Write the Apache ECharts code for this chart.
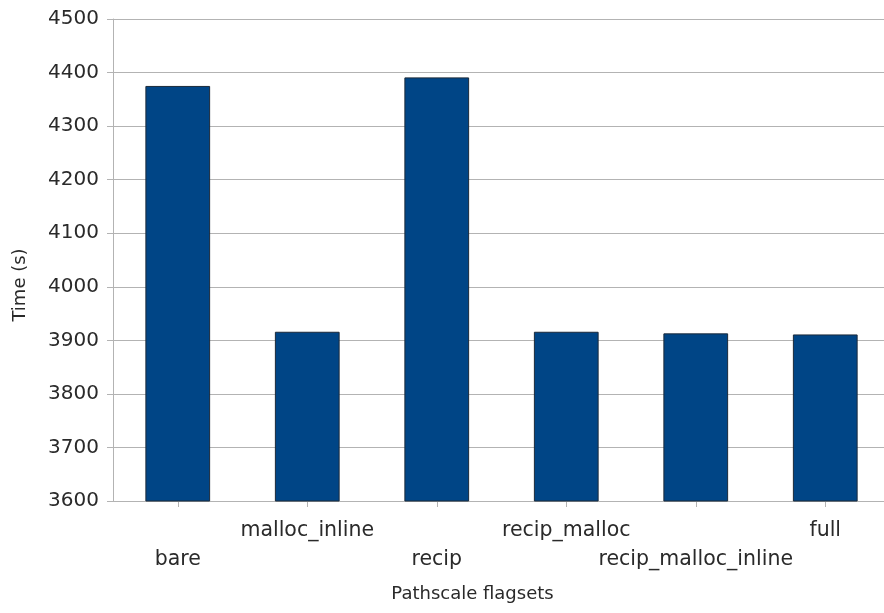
<!DOCTYPE html>
<html>
<head>
<meta charset="utf-8">
<style>
  html, body { margin: 0; padding: 0; background: #ffffff; }
  #chart { width: 884px; height: 613px; }
</style>
<script src="https://cdn.jsdelivr.net/npm/echarts@6/dist/echarts.min.js"></script>
</head>
<body>
<div id="chart"></div>
<script>
// Run times per Pathscale flag set
const flagsets = ['bare', 'malloc_inline', 'recip', 'recip_malloc', 'recip_malloc_inline', 'full'];
const timesSec = [4375, 3916, 4391, 3916, 3913, 3911];
const yTicks = { min: 3600, max: 4500, step: 100 };

const chart = echarts.init(document.getElementById('chart'), null, { renderer: 'canvas' });
const font = 'DejaVu Sans';

chart.setOption({
  animation: false,
  backgroundColor: '#ffffff',
  grid: { left: 113, top: 19, bottom: 112, width: 777, containLabel: false, outerBoundsMode: 'none' },
  xAxis: {
    type: 'category',
    data: flagsets,
    boundaryGap: true,
    name: 'Pathscale flagsets',
    nameLocation: 'middle',
    nameGap: 84,
    nameTextStyle: { fontFamily: font, fontSize: 18, color: '#2a2a2a', padding: [0, 58, 0, 0] },
    axisLine: { show: true, lineStyle: { color: '#b3b3b3', width: 1 } },
    axisTick: { show: true, alignWithLabel: true, length: 6, lineStyle: { color: '#b3b3b3' } },
    axisLabel: {
      interval: 0,
      margin: 15,
      fontFamily: font,
      fontSize: 20.5,
      color: '#2a2a2a',
      lineHeight: 29,
      formatter: (value, index) => (index % 2 === 0 ? '\n' + value : value)
    },
    splitLine: { show: false }
  },
  yAxis: {
    type: 'value',
    min: yTicks.min,
    max: yTicks.max,
    interval: yTicks.step,
    name: 'Time (s)',
    nameLocation: 'middle',
    nameGap: 84,
    nameRotate: 90,
    nameTextStyle: { fontFamily: font, fontSize: 18, color: '#2a2a2a', padding: [0, 50, 0, 0] },
    axisLine: { show: true, lineStyle: { color: '#b3b3b3', width: 1 } },
    axisTick: { show: true, length: 6, lineStyle: { color: '#b3b3b3' } },
    axisLabel: { margin: 14, fontFamily: font, fontSize: 20, color: '#2a2a2a', formatter: (v) => String(v) },
    splitLine: { show: true, lineStyle: { color: '#b3b3b3', width: 1 } }
  },
  series: [{
    type: 'bar',
    data: timesSec,
    barWidth: '50%',
    itemStyle: { color: '#004586', borderColor: '#1b2a3a', borderWidth: 1 }
  }]
});
</script>
</body>
</html>
